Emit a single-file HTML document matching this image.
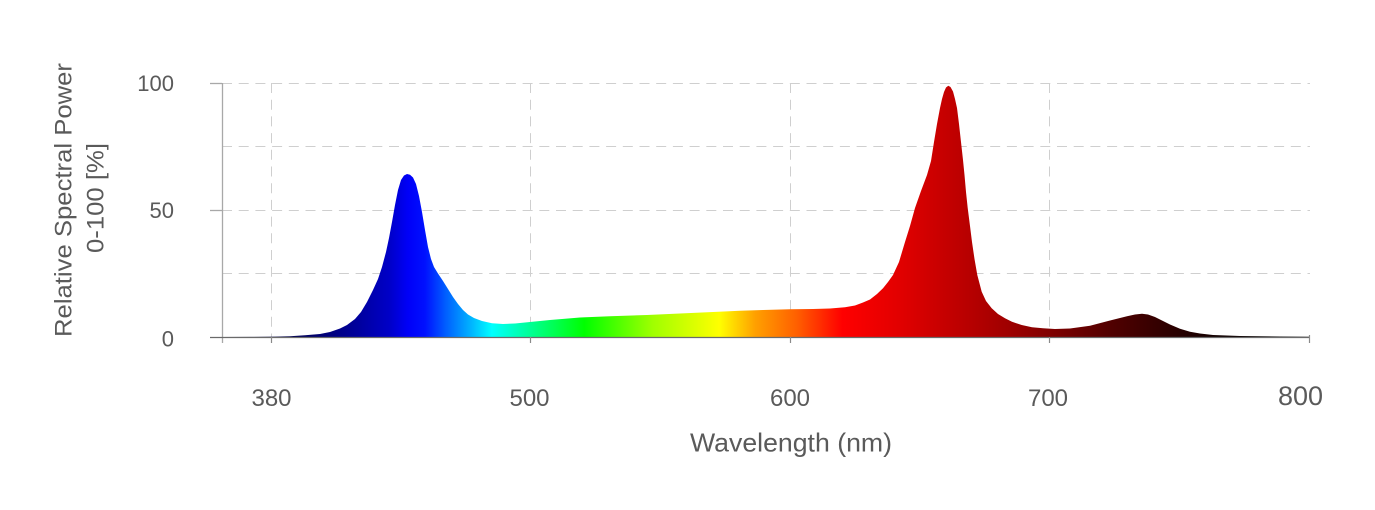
<!DOCTYPE html>
<html>
<head>
<meta charset="utf-8">
<style>
  html,body{margin:0;padding:0;background:#ffffff;}
  body{width:1375px;height:510px;overflow:hidden;}
  svg{display:block;}
  text{font-family:"Liberation Sans", "DejaVu Sans", sans-serif;fill:#5a5a5a;}
</style>
</head>
<body>
<svg width="1375" height="510" viewBox="0 0 1375 510" xmlns="http://www.w3.org/2000/svg">
  <defs>
    <linearGradient id="spec" gradientUnits="userSpaceOnUse" x1="222" y1="0" x2="1310" y2="0">
      <stop offset="0" stop-color="#000020"/>
      <stop offset="0.0634" stop-color="#000050"/>
      <stop offset="0.1268" stop-color="#0000a0"/>
      <stop offset="0.154" stop-color="#0000c8"/>
      <stop offset="0.171" stop-color="#0000f8"/>
      <stop offset="0.1866" stop-color="#0010ff"/>
      <stop offset="0.206" stop-color="#0060ff"/>
      <stop offset="0.228" stop-color="#00b0ff"/>
      <stop offset="0.248" stop-color="#00ffff"/>
      <stop offset="0.285" stop-color="#00ff90"/>
      <stop offset="0.333" stop-color="#00ff00"/>
      <stop offset="0.396" stop-color="#a0ff00"/>
      <stop offset="0.457" stop-color="#ffff00"/>
      <stop offset="0.49" stop-color="#ffa000"/>
      <stop offset="0.528" stop-color="#ff6000"/>
      <stop offset="0.57" stop-color="#ff0000"/>
      <stop offset="0.625" stop-color="#e00000"/>
      <stop offset="0.673" stop-color="#c00000"/>
      <stop offset="0.7215" stop-color="#a00000"/>
      <stop offset="0.761" stop-color="#800000"/>
      <stop offset="0.818" stop-color="#500000"/>
      <stop offset="0.866" stop-color="#300000"/>
      <stop offset="0.917" stop-color="#100000"/>
      <stop offset="0.982" stop-color="#000000"/>
      <stop offset="1" stop-color="#000000"/>
    </linearGradient>
  </defs>

  <!-- horizontal dashed gridlines -->
  <g stroke="#cfcfcf" stroke-width="1" stroke-dasharray="10 6.7" fill="none">
    <line x1="222" y1="83.5" x2="1310" y2="83.5"/>
    <line x1="222" y1="146.5" x2="1310" y2="146.5"/>
    <line x1="222" y1="210.5" x2="1310" y2="210.5"/>
    <line x1="222" y1="273.5" x2="1310" y2="273.5"/>
  </g>
  <!-- vertical dashed gridlines -->
  <g stroke="#cfcfcf" stroke-width="1" stroke-dasharray="10 6.7" fill="none">
    <line x1="271.5" y1="83" x2="271.5" y2="337"/>
    <line x1="530.5" y1="83" x2="530.5" y2="337"/>
    <line x1="790.5" y1="83" x2="790.5" y2="337"/>
    <line x1="1049.5" y1="83" x2="1049.5" y2="337"/>
  </g>

  <!-- spectrum -->
  <path fill="url(#spec)" d="M222,337 L250,336.9 L275,336.6 L290,336.2 L305,335.3 L320,334 L330,332 L340,328.5 L347,325 L355,319 L361,312 L367,302 L373,290 L378,279 L382,267 L386,252 L389,238 L392,222 L395,205 L398,190 L401,180 L404,175.5 L407,174 L410,174.8 L413,177.5 L416,184 L419,196 L422,212 L425,230 L428,247 L431,259 L434,267 L438,273.5 L443,281 L448,289 L453,297 L458,304 L463,310 L468,314.5 L474,318 L482,321 L492,323.3 L503,324 L515,323.5 L530,322 L550,320 L580,317.5 L610,316.3 L647,315 L680,313.5 L713,312 L740,310.7 L763,310 L790,309.3 L813,309 L830,308.5 L845,307.3 L855,305.5 L863,302.5 L870,299.5 L877,294 L883,288.3 L888,282 L893,275 L899,262 L905,242 L910,226 L915,208 L921,191 L927,175 L931,161 L934,142 L937,124 L940,108 L942,99 L944,92 L946,87.5 L948.3,85.7 L950.5,87 L953,91.5 L955,99 L957,108 L959,124 L961,142 L963,160 L964.5,175 L966,192 L967.7,208 L970,226 L972,242 L974.5,259 L977.3,275 L981.7,291.7 L986,301 L991.7,308.3 L998,314 L1005,318.3 L1012,321.8 L1021.7,325 L1032,327.2 L1043,328.3 L1055,329 L1070,328.5 L1090,325.8 L1110,320.5 L1127,316.3 L1135,314.5 L1142,313.8 L1148,314.5 L1155,317 L1162,320.5 L1170,324.5 L1180,328.8 L1190,331.7 L1200,333.5 L1213,335 L1240,336 L1280,336.5 L1309,336.7 L1309,337 Z"/>

  <!-- axes -->
  <line x1="222.5" y1="83" x2="222.5" y2="343" stroke="#a8a8a8" stroke-width="1.3"/>
  <line x1="210" y1="337.5" x2="1310" y2="337.5" stroke="#6a6a6a" stroke-width="1.3"/>
  <!-- y ticks -->
  <g stroke="#a8a8a8" stroke-width="1.3">
    <line x1="210" y1="83.5" x2="222" y2="83.5"/>
    <line x1="210" y1="210.5" x2="222" y2="210.5"/>
  </g>
  <!-- x ticks -->
  <g stroke="#8a8a8a" stroke-width="1.2">
    <line x1="271.5" y1="337" x2="271.5" y2="343"/>
    <line x1="530.5" y1="337" x2="530.5" y2="343"/>
    <line x1="790.5" y1="337" x2="790.5" y2="343"/>
    <line x1="1049.5" y1="337" x2="1049.5" y2="343"/>
    <line x1="1309.5" y1="335" x2="1309.5" y2="343"/>
  </g>

  <!-- y tick labels -->
  <text x="174" y="91" font-size="22" text-anchor="end">100</text>
  <text x="174" y="218" font-size="22" text-anchor="end">50</text>
  <text x="174" y="346.5" font-size="22" text-anchor="end">0</text>

  <!-- x tick labels -->
  <text x="271.5" y="406" font-size="24" text-anchor="middle">380</text>
  <text x="529.5" y="406" font-size="24" text-anchor="middle">500</text>
  <text x="790" y="406" font-size="24" text-anchor="middle">600</text>
  <text x="1048" y="406" font-size="24" text-anchor="middle">700</text>
  <text x="1300.5" y="405" font-size="27" text-anchor="middle">800</text>

  <!-- axis titles -->
  <text x="791" y="451.5" font-size="26" text-anchor="middle" textLength="202" lengthAdjust="spacingAndGlyphs">Wavelength (nm)</text>
  <text transform="translate(71.7,200) rotate(-90)" x="0" y="0" font-size="24" text-anchor="middle" textLength="274" lengthAdjust="spacingAndGlyphs">Relative Spectral Power</text>
  <text transform="translate(103.3,198) rotate(-90)" x="0" y="0" font-size="24" text-anchor="middle" textLength="110" lengthAdjust="spacingAndGlyphs">0-100 [%]</text>
</svg>
</body>
</html>
